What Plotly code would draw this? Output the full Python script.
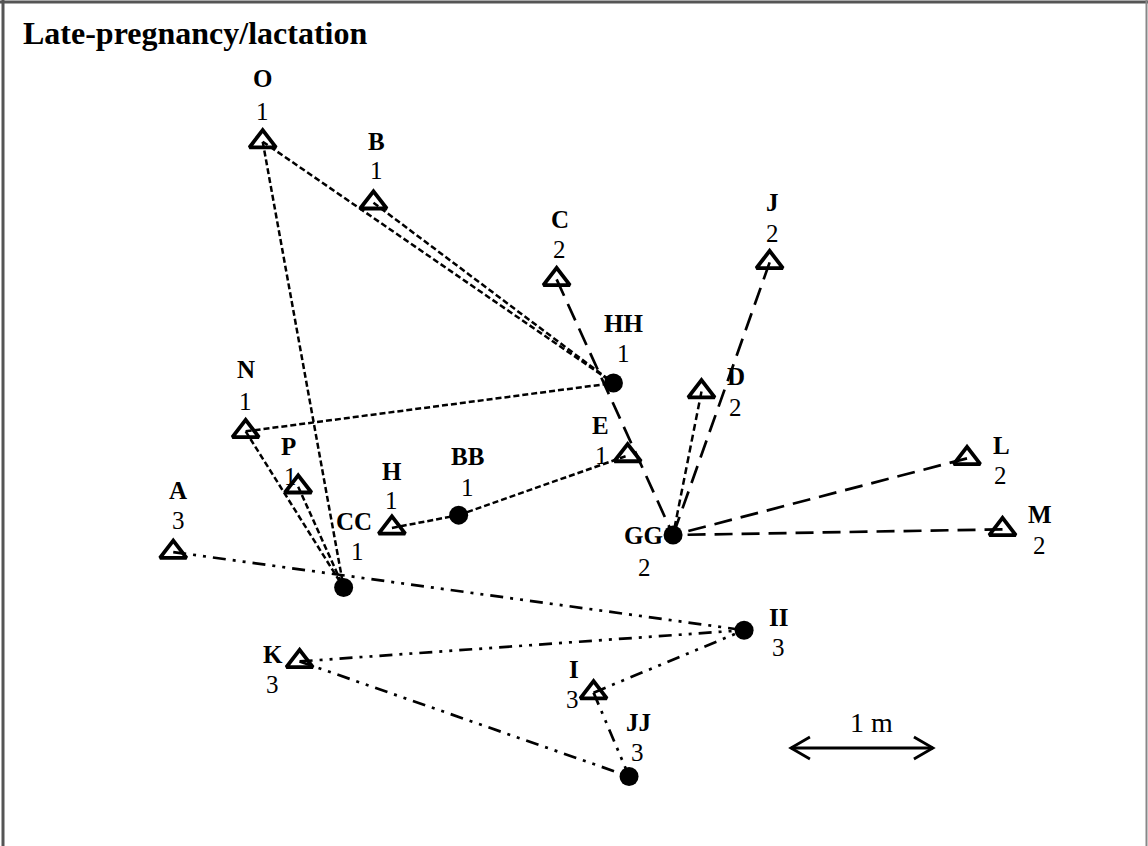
import plotly.graph_objects as go

# ---------------- data (positions in metres, y upward) ----------------
female_ids = ["O", "B", "C", "J", "N", "P", "A", "H", "E", "D", "L", "M", "K", "I"]
female_group = ["1", "1", "2", "2", "1", "1", "3", "1", "1", "2", "2", "2", "3", "3"]
female_x = [1.85, 2.63, 3.92, 5.42, 1.73, 2.10, 1.22, 2.76, 4.42, 4.94, 6.81, 7.06, 2.11, 4.18]
female_y = [4.96, 4.53, 3.99, 4.11, 2.92, 2.53, 2.07, 2.24, 2.75, 3.20, 2.73, 2.23, 1.30, 1.08]

male_ids = ["HH", "BB", "CC", "GG", "II", "JJ"]
male_group = ["1", "1", "1", "2", "3", "3"]
male_x = [4.32, 3.23, 2.42, 4.74, 5.24, 4.43]
male_y = [3.26, 2.33, 1.82, 2.19, 1.52, 0.49]

links_short = [("O", "HH"), ("B", "HH"), ("O", "CC"), ("N", "HH"), ("N", "CC"),
               ("P", "CC"), ("H", "BB"), ("BB", "E")]
links_medium = [("D", "GG")]
links_long = [("C", "GG"), ("J", "GG"), ("L", "GG"), ("M", "GG")]
links_dashdot = [("A", "II"), ("K", "II"), ("K", "JJ"), ("I", "II"), ("I", "JJ")]

scale_len_m = 1.0
scale_label = "1 m"
title_text = "Late-pregnancy/lactation"

# ---------------- layout helpers ----------------
W, H = 1148, 846
PX_PER_M = 142.0
FONT = "Liberation Serif, Times New Roman, serif"
LBL = 25

pos = {}
for n, x, y in zip(female_ids, female_x, female_y):
    pos[n] = (x, y)
for n, x, y in zip(male_ids, male_x, male_y):
    pos[n] = (x, y)
group = dict(zip(female_ids + male_ids, female_group + male_group))

# label offsets in pixels (dx, dy screen-down) for name and group number
label_off = {
    "O": ((0, -63), (0, -30)), "B": ((3, -61), (3, -32)), "C": ((3, -60), (3, -30)),
    "J": ((3, -60), (3, -29)), "N": ((0, -62), (0, -30)), "P": ((-10, -40), (-8, -10)),
    "A": ((5, -62), (5, -32)), "H": ((0, -56), (0, -27)), "E": ((-27, -30), (-26, 0)),
    "D": ((35, -15), (34, 16)), "L": ((34, -13), (33, 17)), "M": ((37, -15), (37, 16)),
    "K": ((-27, -7), (-27, 23)), "I": ((-20, -23), (-21, 7)),
    "HH": ((10, -60), (10, -30)), "BB": ((9, -59), (9, -28)), "CC": ((10, -66), (14, -36)),
    "GG": ((-30, 0), (-29, 32)), "II": ((34, -13), (34, 17)), "JJ": ((9, -54), (8, -24)),
}


def link_xy(links):
    xs, ys = [], []
    for a, b in links:
        xs += [pos[a][0], pos[b][0], None]
        ys += [pos[a][1], pos[b][1], None]
    return xs, ys


fig = go.Figure()

for links, dash, width in [
    (links_short, "6px,3px", 2.5),
    (links_medium, "7px,4px", 2.5),
    (links_long, "18px,9px", 2.7),
    (links_dashdot, "13px,7px,3px,7px,3px,7px", 2.7),
]:
    lx, ly = link_xy(links)
    fig.add_trace(go.Scatter(x=lx, y=ly, mode="lines",
                             line=dict(color="black", width=width, dash=dash),
                             hoverinfo="skip", showlegend=False))

fig.add_trace(go.Scatter(x=female_x, y=female_y, mode="markers",
                         marker=dict(symbol="triangle-up-open", size=23, color="black",
                                     line=dict(width=3.8, color="black")),
                         text=female_ids, hoverinfo="text", showlegend=False))
fig.add_trace(go.Scatter(x=male_x, y=male_y, mode="markers",
                         marker=dict(symbol="circle", size=19, color="black"),
                         text=male_ids, hoverinfo="text", showlegend=False))

# scale bar
sx0, sy = 5.57, 0.69
sx1 = sx0 + scale_len_m
hx, hy = 19 / PX_PER_M, 11 / PX_PER_M
fig.add_trace(go.Scatter(
    x=[sx0 + hx, sx0, sx0 + hx, None, sx0, sx1, None, sx1 - hx, sx1, sx1 - hx],
    y=[sy + hy, sy, sy - hy, None, sy, sy, None, sy + hy, sy, sy - hy],
    mode="lines", line=dict(color="black", width=2.8), hoverinfo="skip", showlegend=False))

annotations = []
annotations.append(dict(x=(sx0 + sx1) / 2 + 10 / PX_PER_M, y=sy, yshift=26, text=scale_label,
                        showarrow=False, font=dict(family=FONT, size=28, color="black"),
                        xanchor="center", yanchor="middle"))

for n in female_ids + male_ids:
    (ldx, ldy), (ndx, ndy) = label_off[n]
    x, y = pos[n]
    annotations.append(dict(x=x, y=y, xshift=ldx, yshift=-ldy, text="<b>%s</b>" % n,
                            showarrow=False, xanchor="center", yanchor="middle",
                            font=dict(family=FONT, size=LBL, color="black")))
    annotations.append(dict(x=x, y=y, xshift=ndx, yshift=-ndy, text=group[n],
                            showarrow=False, xanchor="center", yanchor="middle",
                            font=dict(family=FONT, size=LBL, color="black")))

annotations.append(dict(x=21 / W, y=1 - 33 / H, xref="paper", yref="paper",
                        text="<b>%s</b>" % title_text, showarrow=False,
                        xanchor="left", yanchor="middle",
                        font=dict(family=FONT, size=32, color="black")))

shapes = [
    dict(type="line", xref="paper", yref="paper", x0=3 / W, x1=3 / W, y0=0, y1=1,
         line=dict(color="#555555", width=3)),
    dict(type="line", xref="paper", yref="paper", x0=0, x1=1, y0=1 - 2 / H, y1=1 - 2 / H,
         line=dict(color="#555555", width=3)),
    dict(type="line", xref="paper", yref="paper", x0=1 - 1.5 / W, x1=1 - 1.5 / W, y0=0, y1=1,
         line=dict(color="#888888", width=2)),
]

fig.update_layout(
    width=W, height=H,
    margin=dict(l=0, r=0, t=0, b=0),
    paper_bgcolor="white", plot_bgcolor="white",
    xaxis=dict(range=[0, W / PX_PER_M], visible=False, fixedrange=True),
    yaxis=dict(range=[0, H / PX_PER_M], visible=False, fixedrange=True),
    annotations=annotations, shapes=shapes,
)

fig.write_html("out.html", config={"displayModeBar": False},
               post_script="document.body.style.margin='0';document.body.style.overflow='hidden';")
